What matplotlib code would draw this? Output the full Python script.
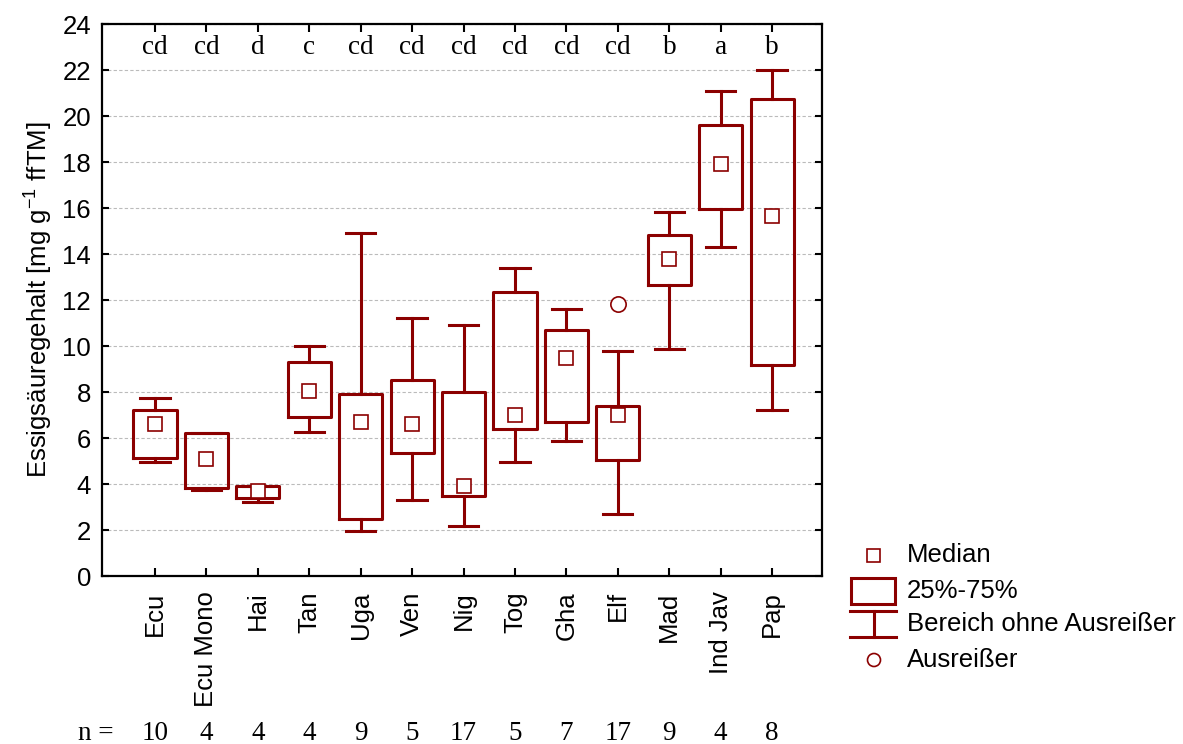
import matplotlib.pyplot as plt
from matplotlib.patches import Rectangle, Circle

# data
labels = ["Ecu", "Ecu Mono", "Hai", "Tan", "Uga", "Ven", "Nig", "Tog", "Gha", "Elf", "Mad", "Ind Jav", "Pap"]
whis_lo = [4.96, 3.72, 3.2, 6.27, 1.97, 3.3, 2.19, 4.94, 5.87, 2.7, 9.88, 14.3, 7.22]
q1 = [5.15, 3.81, 3.4, 6.9, 2.48, 5.36, 3.5, 6.38, 6.7, 5.04, 12.65, 15.94, 9.17]
medians = [6.6, 5.07, 3.7, 8.03, 6.7, 6.6, 3.93, 7.0, 9.46, 7.0, 13.78, 17.9, 15.64]
q3 = [7.22, 6.2, 3.93, 9.3, 7.93, 8.52, 8.01, 12.35, 10.7, 7.41, 14.81, 19.62, 20.75]
whis_hi = [7.73, 6.2, 3.93, 10.0, 14.9, 11.2, 10.9, 13.38, 11.62, 9.78, 15.84, 21.07, 21.99]
outliers = [[], [], [], [], [], [], [], [], [], [11.84], [], [], []]
letters = ["cd", "cd", "d", "c", "cd", "cd", "cd", "cd", "cd", "cd", "b", "a", "b"]
n_counts = [10, 4, 4, 4, 9, 5, 17, 5, 7, 17, 9, 4, 8]

RED = "#8B0000"
SANS = "Liberation Sans"
SERIF = "Liberation Serif"
FS = 18.5

plt.rcParams["font.family"] = SANS
plt.rcParams["mathtext.fontset"] = "custom"
plt.rcParams["mathtext.rm"] = SANS

fig = plt.figure(figsize=(11.83, 7.44), dpi=100)
ax = fig.add_axes([102 / 1183, 1 - 576 / 744, 720 / 1183, 552 / 744])

positions = list(range(1, len(labels) + 1))
stats = []
for i in range(len(labels)):
    stats.append({"whislo": whis_lo[i], "q1": q1[i], "med": medians[i],
                  "q3": q3[i], "whishi": whis_hi[i], "fliers": outliers[i]})

ax.bxp(stats, positions=positions, widths=0.84, capwidths=0.57,
       boxprops=dict(color=RED, lw=2.2),
       whiskerprops=dict(color=RED, lw=2.2),
       capprops=dict(color=RED, lw=2.2),
       medianprops=dict(visible=False),
       flierprops=dict(marker="o", markersize=11, markerfacecolor="white",
                       markeredgecolor=RED, markeredgewidth=1.2))
ax.plot(positions, medians, "s", markersize=10, markerfacecolor="white",
        markeredgecolor=RED, markeredgewidth=1.2, linestyle="none", zorder=5)

ax.set_xlim(-0.03, 13.97)
ax.set_ylim(0, 24)
ax.set_yticks(range(0, 25, 2))
ax.set_xticks(positions)
ax.set_xticklabels(labels, rotation=90, fontsize=FS, va="top", ha="center")
ax.tick_params(axis="y", labelsize=FS, direction="in", right=True, length=5, width=1.5, pad=8)
ax.tick_params(axis="x", direction="in", top=True, length=6, width=1.5, pad=11)
ax.yaxis.grid(True, linestyle=(0, (3, 2)), color="#bbbbbb", lw=0.8)
ax.set_axisbelow(True)
for sp in ax.spines.values():
    sp.set_linewidth(1.6)

ax.set_ylabel("Essigsäuregehalt [mg g$^{\\mathregular{-1}}$ ffTM]", fontsize=FS, labelpad=6)

for p, lt in zip(positions, letters):
    ax.text(p, 23.0, lt, ha="center", va="center", fontsize=19.5, family=SERIF)

trans = ax.get_xaxis_transform()
ny = (576 - 733) / 552
ax.text(-0.15, ny, "n =", transform=trans, ha="center", va="center", fontsize=19.5,
        family=SERIF, clip_on=False)
for p, n in zip(positions, n_counts):
    ax.text(p, ny, str(n), transform=trans, ha="center", va="center", fontsize=19.5,
            family=SERIF, clip_on=False)

# legend drawn in pixel coordinates
lg = fig.add_axes([0, 0, 1, 1])
lg.set_xlim(0, 1183)
lg.set_ylim(744, 0)
lg.axis("off")
lg.patch.set_alpha(0)
lg.add_patch(Rectangle((867, 549), 13, 13, fill=False, ec=RED, lw=1.2))
lg.add_patch(Rectangle((851, 578), 44, 26, fill=False, ec=RED, lw=2.2))
lg.plot([850, 896], [611, 611], color=RED, lw=2.2)
lg.plot([850, 896], [637, 637], color=RED, lw=2.2)
lg.plot([874, 874], [611, 637], color=RED, lw=2.2)
lg.add_patch(Circle((874, 660), 6.5, fill=False, ec=RED, lw=1.2))
for ty, tt in zip([555, 591, 624, 660], ["Median", "25%-75%", "Bereich ohne Ausreißer", "Ausreißer"]):
    lg.text(907, ty, tt, ha="left", va="center", fontsize=FS)

fig.savefig("out.png", dpi=100)
